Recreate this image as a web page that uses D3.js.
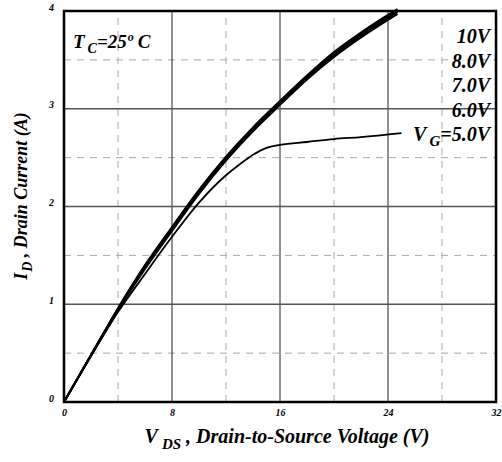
<!DOCTYPE html>
<html><head><meta charset="utf-8">
<script src="https://cdn.jsdelivr.net/npm/d3@7"></script>
<style>body{margin:0;background:#fff}svg{display:block}text{font-family:"Liberation Serif","Times New Roman",serif;font-weight:bold;font-style:italic}</style>
</head><body>
<script>
const xTicks = [0, 8, 16, 24, 32];
const yTicks = [0, 1, 2, 3, 4];
const xMinor = [4, 12, 20, 28];
const yMinor = [0.5, 1.5, 2.5, 3.5];
const vds = [0, 2, 4, 6, 8, 10, 12, 14, 16, 18, 20, 22, 24, 24.7];
const id10 = [0, 0.48, 0.96, 1.40, 1.79, 2.17, 2.51, 2.81, 3.08, 3.34, 3.58, 3.78, 3.96, 4.02];
const id8 = [0, 0.48, 0.95, 1.39, 1.78, 2.16, 2.50, 2.80, 3.07, 3.33, 3.57, 3.77, 3.95, 4.01];
const id7 = [0, 0.48, 0.95, 1.38, 1.77, 2.15, 2.49, 2.79, 3.06, 3.32, 3.55, 3.75, 3.93, 3.99];
const id6 = [0, 0.47, 0.94, 1.36, 1.75, 2.13, 2.47, 2.77, 3.04, 3.30, 3.53, 3.73, 3.91, 3.97];
const vds5 = [0, 2, 4, 6, 8, 10, 12, 13, 14, 15, 16, 18, 20, 22, 25];
const id5 = [0, 0.47, 0.92, 1.31, 1.69, 2.04, 2.32, 2.43, 2.53, 2.60, 2.63, 2.66, 2.69, 2.71, 2.75];
const gateLabels = ["10V", "8.0V", "7.0V", "6.0V"];

const W = 502, H = 462;
const svg = d3.select("body").append("svg").attr("width", W).attr("height", H);
const x = d3.scaleLinear().domain([0, 32]).range([64, 496]);
const y = d3.scaleLinear().domain([0, 4]).range([402, 11]);

// minor dashed grid
svg.append("g").selectAll("line").data(xMinor).join("line")
  .attr("x1", d => x(d)).attr("x2", d => x(d)).attr("y1", y(0)).attr("y2", y(4))
  .attr("stroke", "#aaa").attr("stroke-width", 1).attr("stroke-dasharray", "7,6");
svg.append("g").selectAll("line").data(yMinor).join("line")
  .attr("y1", d => y(d)).attr("y2", d => y(d)).attr("x1", x(0)).attr("x2", x(32))
  .attr("stroke", "#aaa").attr("stroke-width", 1).attr("stroke-dasharray", "7,6");
// major solid grid
svg.append("g").selectAll("line").data(xTicks.slice(1, -1)).join("line")
  .attr("x1", d => x(d)).attr("x2", d => x(d)).attr("y1", y(0)).attr("y2", y(4))
  .attr("stroke", "#222").attr("stroke-width", 1);
svg.append("g").selectAll("line").data(yTicks.slice(1, -1)).join("line")
  .attr("y1", d => y(d)).attr("y2", d => y(d)).attr("x1", x(0)).attr("x2", x(32))
  .attr("stroke", "#555").attr("stroke-width", 1.5);

// axes via d3 axis (labels only)
const fmt = d3.format("d");
const xAxis = svg.append("g").attr("transform", `translate(0,${y(0)})`)
  .call(d3.axisBottom(x).tickValues(xTicks).tickFormat(fmt).tickSize(0).tickPadding(7));
xAxis.select(".domain").remove();
xAxis.selectAll("text").attr("font-size", 10).attr("fill", "#000")
  .style("font-family", '"Liberation Serif",serif').style("font-weight", "bold").style("font-style", "italic");
const yAxis = svg.append("g").attr("transform", `translate(${x(0)},0)`)
  .call(d3.axisLeft(y).tickValues(yTicks).tickFormat(fmt).tickSize(0).tickPadding(10));
yAxis.select(".domain").remove();
yAxis.selectAll("text").attr("font-size", 10).attr("fill", "#000").attr("dy", "-0.1em")
  .style("font-family", '"Liberation Serif",serif').style("font-weight", "bold").style("font-style", "italic");

// frame
svg.append("rect").attr("x", x(0)).attr("y", y(4)).attr("width", x(32) - x(0)).attr("height", y(0) - y(4))
  .attr("fill", "none").attr("stroke", "#000").attr("stroke-width", 2.5);

// curves
const line = d3.line().x(d => x(d[0])).y(d => y(d[1])).curve(d3.curveMonotoneX);
[id10, id8, id7, id6].forEach(arr => {
  svg.append("path").datum(vds.map((v, i) => [v, arr[i]])).attr("d", line)
    .attr("fill", "none").attr("stroke", "#000").attr("stroke-width", 2);
});
svg.append("path").datum(vds5.map((v, i) => [v, id5[i]])).attr("d", line)
  .attr("fill", "none").attr("stroke", "#000").attr("stroke-width", 1.8);

// labels
const tc = svg.append("text").attr("x", 73).attr("y", 48).attr("font-size", 19);
tc.append("tspan").text("T");
tc.append("tspan").attr("font-size", 14).attr("dy", 5).attr("dx", 3).text("C");
tc.append("tspan").attr("dy", -5).text("=25");
tc.append("tspan").attr("font-size", 12).attr("dy", -7).attr("dx", 1).text("o");
tc.append("tspan").attr("dy", 7).attr("dx", 4).text("C");

svg.append("g").selectAll("text").data(gateLabels).join("text")
  .attr("x", 490).attr("y", (d, i) => 43 + i * 24.6).attr("text-anchor", "end")
  .attr("font-size", 20).text(d => d);
const vg = svg.append("text").attr("x", 490).attr("y", 141).attr("text-anchor", "end").attr("font-size", 20);
vg.append("tspan").text("V");
vg.append("tspan").attr("font-size", 15).attr("dy", 5).attr("dx", 3).text("G");
vg.append("tspan").attr("dy", -5).text("=5.0V");

const xt = svg.append("text").attr("x", 287).attr("y", 443).attr("text-anchor", "middle").attr("font-size", 20);
xt.append("tspan").text("V");
xt.append("tspan").attr("font-size", 15).attr("dy", 6).attr("dx", 4).text("DS");
xt.append("tspan").attr("dy", -6).text(" , Drain-to-Source Voltage (V)");

const yt = svg.append("text").attr("transform", "translate(27,196) rotate(-90)").attr("text-anchor", "middle").attr("font-size", 18);
yt.append("tspan").text("I");
yt.append("tspan").attr("font-size", 14).attr("dy", 5).attr("dx", 1).text("D");
yt.append("tspan").attr("dy", -5).text(" , Drain Current (A)");
</script>
</body></html>
